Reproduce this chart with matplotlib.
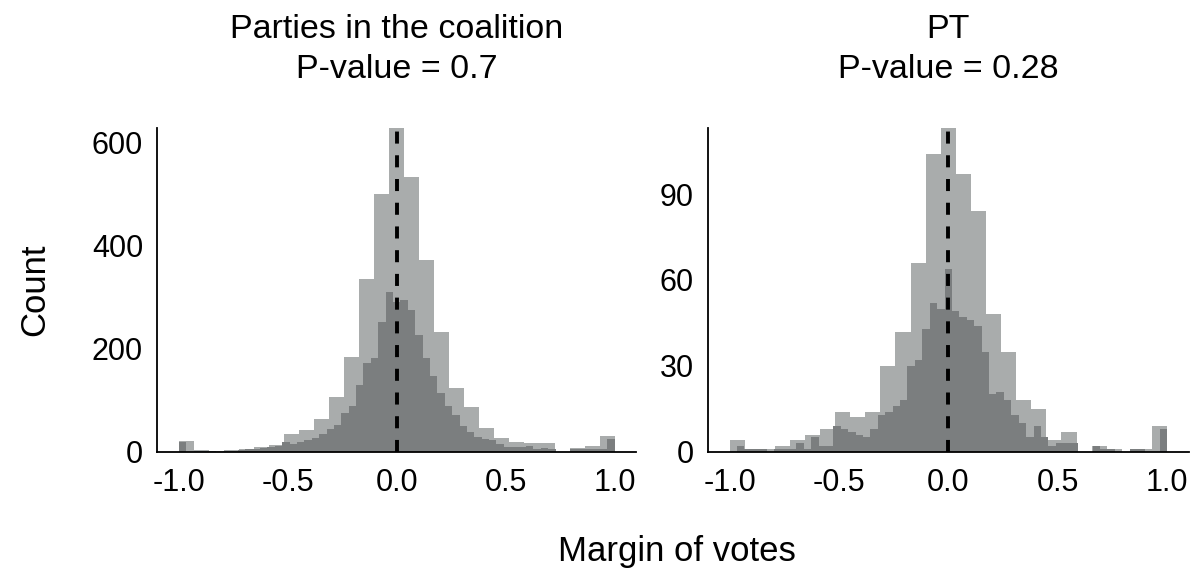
import numpy as np
import matplotlib
matplotlib.use("Agg")
import matplotlib.pyplot as plt

plt.rcParams['font.family'] = ['Liberation Sans', 'DejaVu Sans']

# counts per bin, read left to right over [-1, 1]
# wide bins (29) and narrow bins (59)
coal_wide = [20, 3, 1, 3, 6, 9, 13, 34, 42, 63, 107, 183, 335, 501, 628,
             533, 373, 233, 124, 86, 47, 26, 18, 17, 16, 0, 8, 11, 30]
coal_narrow = [18, 0, 2, 1, 1, 0, 1, 2, 4, 5, 6, 7, 9, 12, 18, 15, 19, 22,
               27, 35, 44, 52, 75, 89, 130, 172, 182, 251, 311, 290, 295,
               276, 226, 182, 148, 114, 89, 71, 49, 39, 29, 25, 23, 15, 10,
               9, 9, 11, 5, 7, 6, 0, 0, 6, 5, 6, 5, 6, 24]

pt_wide = [4, 1, 1, 2, 4, 6, 8, 14, 12, 14, 30, 42, 66, 104, 113,
           97, 84, 48, 35, 18, 15, 4, 7, 0, 2, 1, 0, 1, 9]
pt_narrow = [0, 2, 1, 1, 1, 0, 1, 1, 1, 3, 1, 5, 2, 2, 9, 8, 7, 6, 5, 8,
             13, 14, 16, 18, 30, 32, 43, 52, 50, 64, 49, 47, 46, 44, 35,
             20, 21, 18, 13, 10, 5, 9, 5, 2, 3, 3, 3, 0, 0, 2, 1, 1, 0, 0,
             1, 1, 0, 0, 8]

titles = ["Parties in the coalition\nP-value = 0.7", "PT\nP-value = 0.28"]
yticks = [[0, 200, 400, 600], [0, 30, 60, 90]]
xticks = [-1.0, -0.5, 0.0, 0.5, 1.0]

light = '#A9ACAC'
dark = '#7B7E7F'

fig = plt.figure(figsize=(11.98, 5.70), dpi=100)
ax1 = fig.add_axes([0.131, 0.2075, 0.4003, 0.5674])
ax2 = fig.add_axes([0.5907, 0.2075, 0.4017, 0.5674])

panels = [(ax1, coal_wide, coal_narrow), (ax2, pt_wide, pt_narrow)]
for i, (ax, wide, narrow) in enumerate(panels):
    e_wide = np.linspace(-1, 1, len(wide) + 1)
    e_narrow = np.linspace(-1, 1, len(narrow) + 1)
    ax.stairs(wide, e_wide, fill=True, color=light, lw=0)
    ax.stairs(narrow, e_narrow, fill=True, color=dark, lw=0)
    top = max(max(wide), max(narrow))
    # reference line at zero margin
    ax.plot([0, 0], [0, top], color='black', lw=2.8,
            linestyle=(0, (3.1, 3.0)), solid_capstyle='butt')
    ax.set_xlim(-1.1, 1.1)
    ax.set_ylim(0, top)
    ax.set_xticks(xticks)
    ax.set_xticklabels(['%.1f' % t for t in xticks])
    ax.set_yticks(yticks[i])
    ax.tick_params(length=0, labelsize=22)
    ax.tick_params(axis='y', pad=10)
    ax.tick_params(axis='x', pad=12)
    for s in ['top', 'right']:
        ax.spines[s].set_visible(False)
    for s in ['left', 'bottom']:
        ax.spines[s].set_linewidth(1.3)
    ax.set_title(titles[i], fontsize=24.5, pad=36, linespacing=1.38)

fig.text(0.029, 0.491, 'Count', rotation=90, ha='center', va='center',
         fontsize=25)
fig.text(0.565, 0.033, 'Margin of votes', ha='center', va='center',
         fontsize=25)

fig.savefig('out.png', dpi=100)
